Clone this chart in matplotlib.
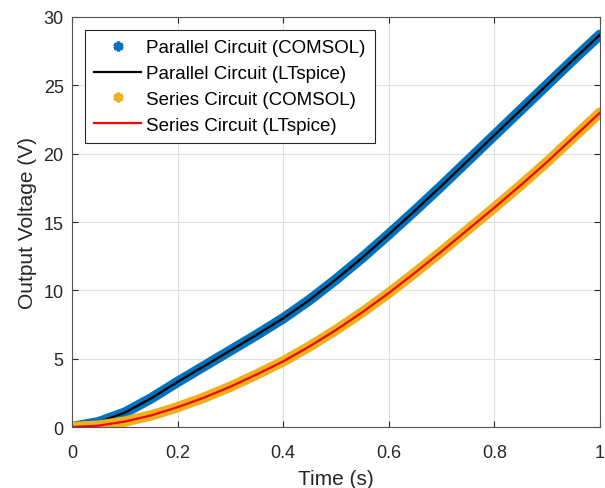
import numpy as np
import matplotlib.pyplot as plt
from matplotlib.lines import Line2D

plt.rcParams['font.family'] = ['Liberation Sans', 'DejaVu Sans']

# --- values ---
time_s = [0.0, 0.05, 0.1, 0.15, 0.2, 0.25, 0.3, 0.35, 0.4, 0.45, 0.5,
          0.55, 0.6, 0.65, 0.7, 0.75, 0.8, 0.85, 0.9, 0.95, 1.0]
parallel_v = [0.0, 0.35, 1.05, 2.1, 3.3, 4.45, 5.6, 6.75, 7.95, 9.3, 10.8,
              12.4, 14.1, 15.85, 17.65, 19.5, 21.35, 23.2, 25.05, 26.9, 28.7]
series_v = [0.0, 0.1, 0.4, 0.85, 1.45, 2.15, 2.95, 3.85, 4.8, 5.9, 7.1,
            8.4, 9.8, 11.3, 12.85, 14.45, 16.05, 17.7, 19.4, 21.2, 23.0]

x_ticks = [0, 0.2, 0.4, 0.6, 0.8, 1]
x_tick_labels = ['0', '0.2', '0.4', '0.6', '0.8', '1']
y_ticks = [0, 5, 10, 15, 20, 25, 30]
labels = ['Parallel Circuit (COMSOL)', 'Parallel Circuit (LTspice)',
          'Series Circuit (COMSOL)', 'Series Circuit (LTspice)']

blue = '#0072BD'
yellow = '#EDB120'
red = '#FF0000'
axis_col = '#262626'

fig = plt.figure(figsize=(6.05, 4.89), dpi=100)
ax = fig.add_axes([0.119, 0.1247, 0.8727, 0.8385])

# COMSOL results form a thick band, LTspice curve sits on top as a thin line
ax.plot(time_s, parallel_v, color=blue, linewidth=7.5, solid_capstyle='round')
ax.plot(time_s, parallel_v, color='black', linewidth=1.6)
ax.plot(time_s, series_v, color=yellow, linewidth=7.5, solid_capstyle='round')
ax.plot(time_s, series_v, color=red, linewidth=1.6)

ax.set_xlim(0, 1)
ax.set_ylim(0, 30)
ax.set_xticks(x_ticks)
ax.set_xticklabels(x_tick_labels)
ax.set_yticks(y_ticks)
ax.tick_params(direction='in', length=4, width=0.8, colors=axis_col,
               labelsize=13, top=True, right=True)
ax.tick_params(axis='x', pad=12)
ax.tick_params(axis='y', pad=6)
for s in ax.spines.values():
    s.set_color('#555555')
    s.set_linewidth(0.8)
ax.grid(True, color='#e0e0e0', linewidth=0.8)
ax.set_axisbelow(True)

ax.set_xlabel('Time (s)', fontsize=15, color=axis_col, labelpad=6)
ax.set_ylabel('Output Voltage (V)', fontsize=15, color=axis_col, labelpad=5)

handles = [
    Line2D([], [], linestyle='none', marker=(6, 2, 0), markersize=7,
           markeredgewidth=2.5, color=blue),
    Line2D([], [], color='black', linewidth=1.6),
    Line2D([], [], linestyle='none', marker=(6, 2, 0), markersize=7,
           markeredgewidth=2.5, color=yellow),
    Line2D([], [], color=red, linewidth=1.6),
]
leg = ax.legend(handles, labels, loc='upper left', fontsize=13.5,
                frameon=True, fancybox=False, framealpha=1,
                edgecolor=axis_col, borderaxespad=0.69, handlelength=2.5,
                handletextpad=0.27, labelspacing=0.46, borderpad=0.5)
leg.get_frame().set_linewidth(0.8)

fig.savefig('out.png', dpi=100)
